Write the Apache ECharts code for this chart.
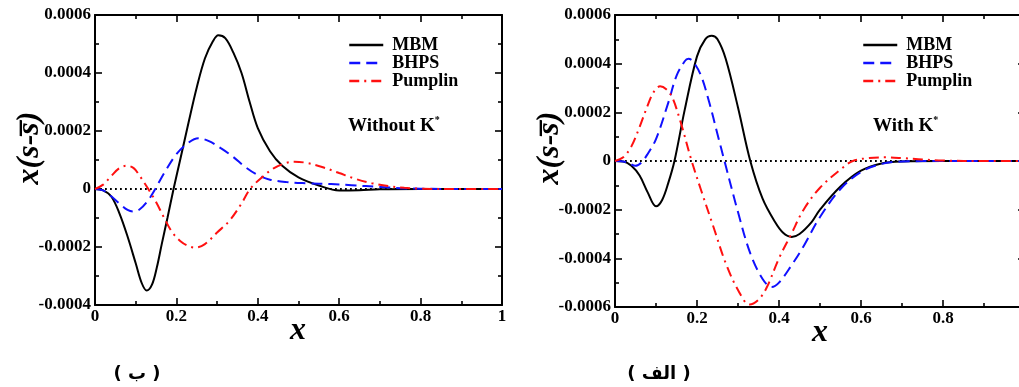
<!DOCTYPE html>
<html>
<head>
<meta charset="utf-8">
<script src="https://cdn.jsdelivr.net/npm/echarts@6/dist/echarts.min.js"></script>
<style>
html,body{margin:0;padding:0;background:#fff;}
#chart{width:1019px;height:387px;}
</style>
</head>
<body>
<div id="chart"></div>
<script>
// Values in units of 1e-4
const xTicks = [0, 0.2, 0.4, 0.6, 0.8, 1];
const seriesNames = ['MBM', 'BHPS', 'Pumplin'];

// Left panel (Without K*)
const leftMbmX = [0, 0.02, 0.04, 0.06, 0.08, 0.1, 0.115, 0.127, 0.14, 0.152, 0.164, 0.178, 0.193, 0.21, 0.23, 0.25, 0.27, 0.29, 0.303, 0.32, 0.34, 0.36, 0.38, 0.4, 0.43, 0.46, 0.5, 0.55, 0.6, 0.65, 0.7, 0.8, 1];
const leftMbmY = [0, -0.05, -0.26, -0.84, -1.64, -2.56, -3.25, -3.5, -3.3, -2.7, -1.9, -1.0, 0, 1.05, 2.3, 3.5, 4.5, 5.1, 5.3, 5.2, 4.7, 4.0, 3.0, 2.1, 1.3, 0.8, 0.4, 0.12, -0.05, -0.04, -0.01, 0, 0];
const leftBhpsX = [0, 0.02, 0.04, 0.06, 0.08, 0.094, 0.11, 0.13, 0.148, 0.17, 0.2, 0.23, 0.254, 0.28, 0.31, 0.34, 0.37, 0.4, 0.43, 0.47, 0.52, 0.58, 0.63, 0.7, 0.75, 0.8, 0.9, 1];
const leftBhpsY = [0, -0.05, -0.25, -0.5, -0.72, -0.78, -0.7, -0.4, 0, 0.55, 1.2, 1.6, 1.75, 1.65, 1.4, 1.1, 0.75, 0.48, 0.32, 0.24, 0.2, 0.17, 0.13, 0.07, 0.03, 0.01, 0, 0];
const leftPumX = [0, 0.02, 0.04, 0.06, 0.078, 0.095, 0.11, 0.131, 0.15, 0.17, 0.19, 0.21, 0.23, 0.246, 0.27, 0.3, 0.33, 0.36, 0.381, 0.41, 0.44, 0.47, 0.49, 0.52, 0.56, 0.6, 0.64, 0.68, 0.72, 0.76, 0.8, 0.9, 1];
const leftPumY = [0, 0.15, 0.45, 0.72, 0.8, 0.72, 0.45, 0, -0.45, -1.0, -1.5, -1.8, -1.97, -2.02, -1.9, -1.5, -1.1, -0.5, 0, 0.4, 0.72, 0.9, 0.94, 0.9, 0.75, 0.55, 0.35, 0.2, 0.1, 0.04, 0.01, 0, 0];

// Right panel (With K*)
const rightMbmX = [0, 0.02, 0.04, 0.06, 0.08, 0.1, 0.115, 0.13, 0.145, 0.17, 0.2, 0.22, 0.236, 0.25, 0.27, 0.3, 0.33, 0.36, 0.39, 0.41, 0.431, 0.45, 0.48, 0.5, 0.55, 0.6, 0.65, 0.7, 0.8, 1];
const rightMbmY = [0, -0.02, -0.2, -0.6, -1.3, -1.86, -1.6, -0.9, 0, 2.1, 4.3, 5.0, 5.15, 5.0, 4.2, 2.2, 0, -1.55, -2.5, -2.95, -3.12, -3.0, -2.5, -2.0, -1.05, -0.4, -0.1, -0.02, 0, 0];
const rightBhpsX = [0, 0.03, 0.05, 0.065, 0.08, 0.1, 0.13, 0.15, 0.17, 0.179, 0.19, 0.21, 0.23, 0.25, 0.267, 0.3, 0.33, 0.36, 0.382, 0.4, 0.43, 0.46, 0.5, 0.55, 0.6, 0.65, 0.7, 0.8, 1];
const rightBhpsY = [0, -0.05, -0.2, -0.05, 0.3, 0.9, 2.4, 3.5, 4.1, 4.2, 4.1, 3.5, 2.4, 1.1, 0, -2.1, -3.8, -4.85, -5.18, -5.0, -4.3, -3.5, -2.3, -1.15, -0.45, -0.12, -0.02, 0, 0];
const rightPumX = [0, 0.02, 0.04, 0.06, 0.08, 0.095, 0.11, 0.125, 0.14, 0.16, 0.187, 0.21, 0.24, 0.27, 0.3, 0.328, 0.35, 0.37, 0.4, 0.43, 0.46, 0.5, 0.55, 0.58, 0.62, 0.66, 0.7, 0.75, 0.8, 0.9, 1];
const rightPumY = [0, 0.15, 0.6, 1.4, 2.3, 2.85, 3.07, 2.95, 2.6, 1.6, 0, -1.2, -2.7, -4.2, -5.3, -5.9, -5.7, -5.2, -4.0, -3.0, -2.0, -1.1, -0.35, 0, 0.12, 0.15, 0.12, 0.06, 0.02, 0, 0];

const zeroX = [0, 1];
const zeroY = [0, 0];

const leftY = {min: -4, max: 6, interval: 2};
const rightY = {min: -6, max: 6, interval: 2};

const FONT = '"Liberation Serif", "Times New Roman", serif';
const pairs = (xs, ys) => xs.map((x, i) => [x, ys[i]]);

const colors = {MBM: '#000000', BHPS: '#1010ff', Pumplin: '#ff1010'};
const lineTypes = {MBM: 'solid', BHPS: [11, 6], Pumplin: [10, 5, 2, 5]};

function yLabel(v) {
  if (Math.abs(v) < 1e-9) return '0';
  return (v / 10000).toFixed(4);
}

function axesFor(gridIndex, yr) {
  const tickStyle = {color: '#000', width: 1.6};
  const axisLine = {show: true, onZero: false, lineStyle: {color: '#000', width: 2}};
  const tick = {inside: true, length: 7, lineStyle: tickStyle};
  const minor = {show: true, splitNumber: 2, length: 4, lineStyle: tickStyle};
  const xs = [
    {type: 'value', gridIndex, position: 'bottom', min: 0, max: 1, interval: 0.2,
     axisLine, axisTick: tick, minorTick: minor, splitLine: {show: false},
     axisLabel: {color: '#000', fontFamily: FONT, fontWeight: 'bold', fontSize: 17, margin: 3,
       formatter: v => String(Math.round(v * 10) / 10)}},
    {type: 'value', gridIndex, position: 'top', min: 0, max: 1, interval: 0.2,
     axisLine, axisTick: tick, minorTick: minor, splitLine: {show: false}, axisLabel: {show: false}}
  ];
  const ys = [
    {type: 'value', gridIndex, position: 'left', min: yr.min, max: yr.max, interval: yr.interval,
     axisLine, axisTick: tick, minorTick: minor, splitLine: {show: false},
     axisLabel: {color: '#000', fontFamily: FONT, fontWeight: 'bold', fontSize: 17, margin: 4, formatter: yLabel}},
    {type: 'value', gridIndex, position: 'right', min: yr.min, max: yr.max, interval: yr.interval,
     axisLine, axisTick: tick, minorTick: minor, splitLine: {show: false}, axisLabel: {show: false}}
  ];
  return {xs, ys};
}

const la = axesFor(0, leftY);
const ra = axesFor(1, rightY);

function curve(name, xs, ys, axisIdx) {
  return {
    name, type: 'line', xAxisIndex: axisIdx, yAxisIndex: axisIdx,
    data: pairs(xs, ys), smooth: 0.35, showSymbol: false, symbol: 'none',
    lineStyle: {color: colors[name], width: 2, type: lineTypes[name]},
    itemStyle: {color: colors[name]}, z: 3
  };
}
function zeroLine(axisIdx) {
  return {
    name: 'zero', type: 'line', xAxisIndex: axisIdx, yAxisIndex: axisIdx,
    data: pairs(zeroX, zeroY), showSymbol: false, symbol: 'none', silent: true,
    lineStyle: {color: '#000', width: 1.8, type: [1.8, 3.2]}, z: 1
  };
}

function legendAt(left, top) {
  return {
    data: seriesNames, orient: 'vertical', left, top, padding: 0, itemGap: 0,
    itemWidth: 34, itemHeight: 18,
    itemStyle: {opacity: 0},
    lineStyle: {width: 2.5},
    textStyle: {color: '#000', fontFamily: FONT, fontWeight: 'bold', fontSize: 18, lineHeight: 18, padding: [0, 0, 0, 4]}
  };
}

function kText(x, y, label) {
  return {
    type: 'text', left: x, top: y, z: 10,
    style: {
      text: '{a|' + label + ' K}{s|*}',
      rich: {
        a: {fontFamily: FONT, fontWeight: 'bold', fontSize: 19, fill: '#000'},
        s: {fontFamily: FONT, fontWeight: 'bold', fontSize: 10, fill: '#000', verticalAlign: 'top', padding: [0, 0, 12, 0]}
      }
    }
  };
}

function yTitle(x, y) {
  return {
    type: 'text', x, y, rotation: Math.PI / 2, z: 10,
    style: {text: 'x(s-s\u0305)', font: 'italic bold 32px ' + FONT, fill: '#000', align: 'center', verticalAlign: 'middle'}
  };
}
function xTitle(x, y) {
  return {
    type: 'text', x, y, z: 10,
    style: {text: 'x', font: 'italic bold 32px ' + FONT, fill: '#000', align: 'center', verticalAlign: 'middle'}
  };
}
function caption(x, y, t) {
  return {
    type: 'text', x, y, z: 10,
    style: {text: t, font: 'bold 18px "DejaVu Sans", ' + FONT, fill: '#000', align: 'center', verticalAlign: 'middle'}
  };
}

const option = {
  backgroundColor: '#fff',
  animation: false,
  grid: [
    {left: 95, top: 15, width: 407, height: 290, containLabel: false, outerBoundsMode: 'none'},
    {left: 615, top: 15, width: 410, height: 292, containLabel: false, outerBoundsMode: 'none'}
  ],
  xAxis: [...la.xs, ...ra.xs],
  yAxis: [...la.ys, ...ra.ys],
  legend: [legendAt(348, 36), legendAt(862, 36)],
  series: [
    zeroLine(0),
    curve('MBM', leftMbmX, leftMbmY, 0),
    curve('BHPS', leftBhpsX, leftBhpsY, 0),
    curve('Pumplin', leftPumX, leftPumY, 0),
    zeroLine(2),
    curve('MBM', rightMbmX, rightMbmY, 2),
    curve('BHPS', rightBhpsX, rightBhpsY, 2),
    curve('Pumplin', rightPumX, rightPumY, 2)
  ],
  graphic: [
    kText(348, 115, 'Without'),
    kText(873, 115, 'With'),
    yTitle(30, 148),
    yTitle(550, 148),
    xTitle(298, 331),
    xTitle(820, 333),
    caption(137, 374, '( ب )'),
    caption(659, 374, '( الف )')
  ]
};

const chart = echarts.init(document.getElementById('chart'), null, {renderer: 'canvas'});
chart.setOption(option);
</script>
</body>
</html>
